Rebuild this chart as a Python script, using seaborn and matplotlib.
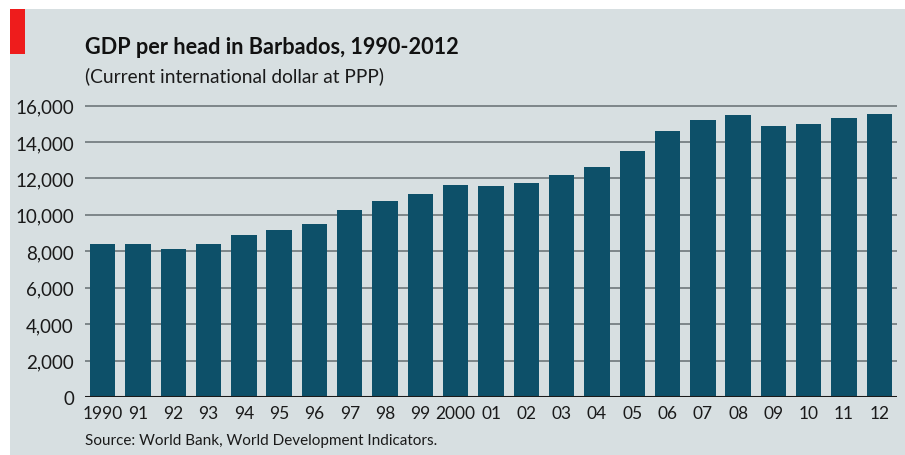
import matplotlib
matplotlib.use("Agg")
import matplotlib.pyplot as plt
from matplotlib.patches import Rectangle
import seaborn as sns
import pandas as pd

years = ["1990", "91", "92", "93", "94", "95", "96", "97", "98", "99", "2000",
         "01", "02", "03", "04", "05", "06", "07", "08", "09", "10", "11", "12"]
gdp_per_head = [8400, 8400, 8130, 8390, 8890, 9190, 9510, 10250, 10760, 11160,
                11640, 11560, 11760, 12170, 12610, 13490, 14620, 15190, 15460,
                14860, 15000, 15330, 15520]
y_ticks = [0, 2000, 4000, 6000, 8000, 10000, 12000, 14000, 16000]

title = "GDP per head in Barbados, 1990-2012"
subtitle = "(Current international dollar at PPP)"
source = "Source: World Bank, World Development Indicators."

BG = "#d7dfe1"
BAR = "#0d5069"
GRID = "#7d8689"
FONT = ["Lato", "DejaVu Sans"]

sns.set_theme(style="white")
plt.rcParams["font.family"] = FONT

df = pd.DataFrame({"year": years, "gdp": gdp_per_head})

W, H = 905, 456
fig = plt.figure(figsize=(W / 100, H / 100), dpi=100)
fig.patch.set_facecolor("white")

# panel background with a white margin on the top and left
fig.add_artist(Rectangle((10 / W, 0), 1 - 10 / W, 1 - 10 / H,
                         transform=fig.transFigure, facecolor=BG,
                         edgecolor="none", zorder=0))
# red tag in the top-left corner
fig.add_artist(Rectangle((10 / W, 1 - 55 / H), 15 / W, 45 / H,
                         transform=fig.transFigure, facecolor="#ee1c1c",
                         edgecolor="none", zorder=1))

ymax = 16200
px_per_unit = 291.5 / 16000
top_px = 398 - ymax * px_per_unit
ax = fig.add_axes([85 / W, 1 - 398 / H, (897 - 85) / W, (398 - top_px) / H])
ax.set_facecolor(BG)
ax.patch.set_alpha(0)

sns.barplot(data=df, x="year", y="gdp", color=BAR, saturation=1,
            width=0.72, linewidth=0, edgecolor="none", ax=ax, zorder=3)

ax.set_xlim(-0.5, len(years) - 0.5)
ax.set_ylim(0, ymax)
ax.set_yticks(y_ticks)
ax.set_yticklabels([f"{v:,}" for v in y_ticks])
for v in y_ticks[1:]:
    ax.axhline(v, color=GRID, lw=1.4, zorder=1)
ax.axhline(0, color="#1a1a1a", lw=2.2, zorder=4)

ax.set_xlabel("")
ax.set_ylabel("")
for s in ax.spines.values():
    s.set_visible(False)
ax.tick_params(axis="both", length=0, labelsize=12.5, colors="#1a1a1a")
ax.tick_params(axis="y", pad=8, labelsize=13.5)
ax.tick_params(axis="x", pad=6)

fig.text(85 / W, 1 - 47 / H, title, fontsize=15.6, fontweight="bold",
         color="#111111", va="center", ha="left")
fig.text(85 / W, 1 - 76 / H, subtitle, fontsize=13.8, color="#1a1a1a",
         va="center", ha="left")
fig.text(85 / W, 1 - 441 / H, source, fontsize=11, color="#1a1a1a",
         va="center", ha="left")

fig.savefig("out.png", dpi=100, facecolor="white")
